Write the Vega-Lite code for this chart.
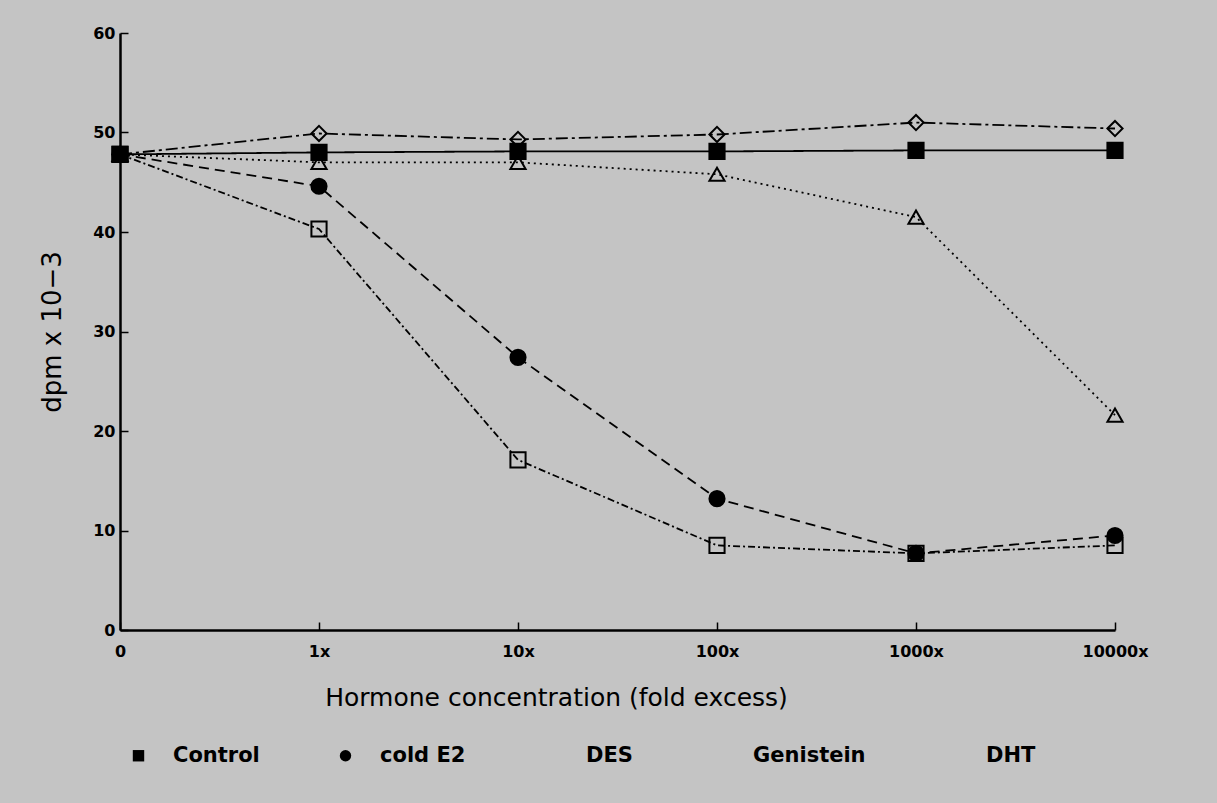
{
  "$schema": "https://vega.github.io/schema/vega-lite/v6.json",
  "width": 995,
  "height": 597,
  "autosize": {"type": "none"},
  "padding": {"left": 120, "top": 33, "right": 102, "bottom": 173},
  "background": "#c4c4c4",
  "config": {
    "view": {"stroke": null},
    "font": "DejaVu Sans",
    "legend": {
      "columnPadding": 75,
      "symbolSize": 130,
      "symbolStrokeWidth": 2,
      "symbolStrokeColor": "black",
      "labelFontSize": 21,
      "labelFontWeight": "bold",
      "labelColor": "black",
      "labelOffset": 24
    }
  },
  "data": {
    "values": [
      {"series": "Control", "conc": "0", "dpm": 47.8},
      {"series": "Control", "conc": "1x", "dpm": 48.0},
      {"series": "Control", "conc": "10x", "dpm": 48.1},
      {"series": "Control", "conc": "100x", "dpm": 48.1},
      {"series": "Control", "conc": "1000x", "dpm": 48.2},
      {"series": "Control", "conc": "10000x", "dpm": 48.2},
      {"series": "cold E2", "conc": "0", "dpm": 47.8},
      {"series": "cold E2", "conc": "1x", "dpm": 44.6},
      {"series": "cold E2", "conc": "10x", "dpm": 27.4},
      {"series": "cold E2", "conc": "100x", "dpm": 13.2},
      {"series": "cold E2", "conc": "1000x", "dpm": 7.7},
      {"series": "cold E2", "conc": "10000x", "dpm": 9.5},
      {"series": "DES", "conc": "0", "dpm": 47.8},
      {"series": "DES", "conc": "1x", "dpm": 40.3},
      {"series": "DES", "conc": "10x", "dpm": 17.1},
      {"series": "DES", "conc": "100x", "dpm": 8.5},
      {"series": "DES", "conc": "1000x", "dpm": 7.7},
      {"series": "DES", "conc": "10000x", "dpm": 8.5},
      {"series": "Genistein", "conc": "0", "dpm": 47.8},
      {"series": "Genistein", "conc": "1x", "dpm": 47.0},
      {"series": "Genistein", "conc": "10x", "dpm": 47.0},
      {"series": "Genistein", "conc": "100x", "dpm": 45.8},
      {"series": "Genistein", "conc": "1000x", "dpm": 41.5},
      {"series": "Genistein", "conc": "10000x", "dpm": 21.6},
      {"series": "DHT", "conc": "0", "dpm": 47.8},
      {"series": "DHT", "conc": "1x", "dpm": 49.9},
      {"series": "DHT", "conc": "10x", "dpm": 49.3},
      {"series": "DHT", "conc": "100x", "dpm": 49.8},
      {"series": "DHT", "conc": "1000x", "dpm": 51.0},
      {"series": "DHT", "conc": "10000x", "dpm": 50.4}
    ]
  },
  "encoding": {
    "x": {
      "field": "conc",
      "type": "ordinal",
      "sort": ["0", "1x", "10x", "100x", "1000x", "10000x"],
      "scale": {"type": "point", "padding": 0},
      "axis": {
        "title": "Hormone concentration (fold excess)",
        "titleFont": "DejaVu Sans",
        "titleFontSize": 25,
        "titleFontWeight": "normal",
        "titleColor": "black",
        "titlePadding": 26,
        "titleX": 436,
        "labelAngle": 0,
        "labelFontSize": 16,
        "labelFontWeight": "bold",
        "labelColor": "black",
        "labelPadding": 21,
        "tickSize": -8,
        "tickColor": "black",
        "tickWidth": 1.5,
        "domainColor": "black",
        "domainWidth": 2.5,
        "grid": false
      }
    },
    "y": {
      "field": "dpm",
      "type": "quantitative",
      "scale": {"domain": [0, 60], "nice": false},
      "axis": {
        "title": "dpm  x  10−3",
        "titleFont": "DejaVu Sans",
        "titleFontSize": 26,
        "titleFontWeight": "normal",
        "titleColor": "black",
        "titlePadding": 27,
        "values": [0, 10, 20, 30, 40, 50, 60],
        "labelFontSize": 16,
        "labelFontWeight": "bold",
        "labelColor": "black",
        "labelPadding": 13,
        "tickSize": -8,
        "tickColor": "black",
        "tickWidth": 1.5,
        "domainColor": "black",
        "domainWidth": 2.5,
        "grid": false
      }
    }
  },
  "layer": [
    {
      "mark": {"type": "line", "color": "black", "strokeWidth": 1.8},
      "encoding": {
        "strokeDash": {
          "field": "series",
          "type": "nominal",
          "sort": null,
          "scale": {
            "range": [[1, 0], [10, 6], [7, 3, 2, 3], [2, 4], [12, 4, 3, 4]]
          },
          "legend": null
        }
      }
    },
    {
      "mark": {"type": "point", "stroke": "black", "strokeWidth": 2, "size": 230, "opacity": 1},
      "encoding": {
        "shape": {
          "field": "series",
          "type": "nominal",
          "sort": null,
          "scale": {
            "range": ["square", "circle", "square", "triangle-up", "diamond"]
          },
          "legend": {
            "title": null,
            "orient": "none",
            "legendX": 8,
            "legendY": 712,
            "direction": "horizontal",
            "columns": 5,
            "encode": {"symbols": {"update": {"stroke": {"value": "black"}, "strokeWidth": {"value": 2}}}}
          }
        },
        "fill": {
          "field": "series",
          "type": "nominal",
          "sort": null,
          "scale": {
            "range": ["black", "black", "transparent", "transparent", "transparent"]
          },
          "legend": {
            "title": null,
            "orient": "none",
            "legendX": 8,
            "legendY": 712,
            "direction": "horizontal",
            "columns": 5,
            "encode": {"symbols": {"update": {"stroke": {"value": "black"}, "strokeWidth": {"value": 2}}}}
          }
        }
      }
    }
  ]
}
